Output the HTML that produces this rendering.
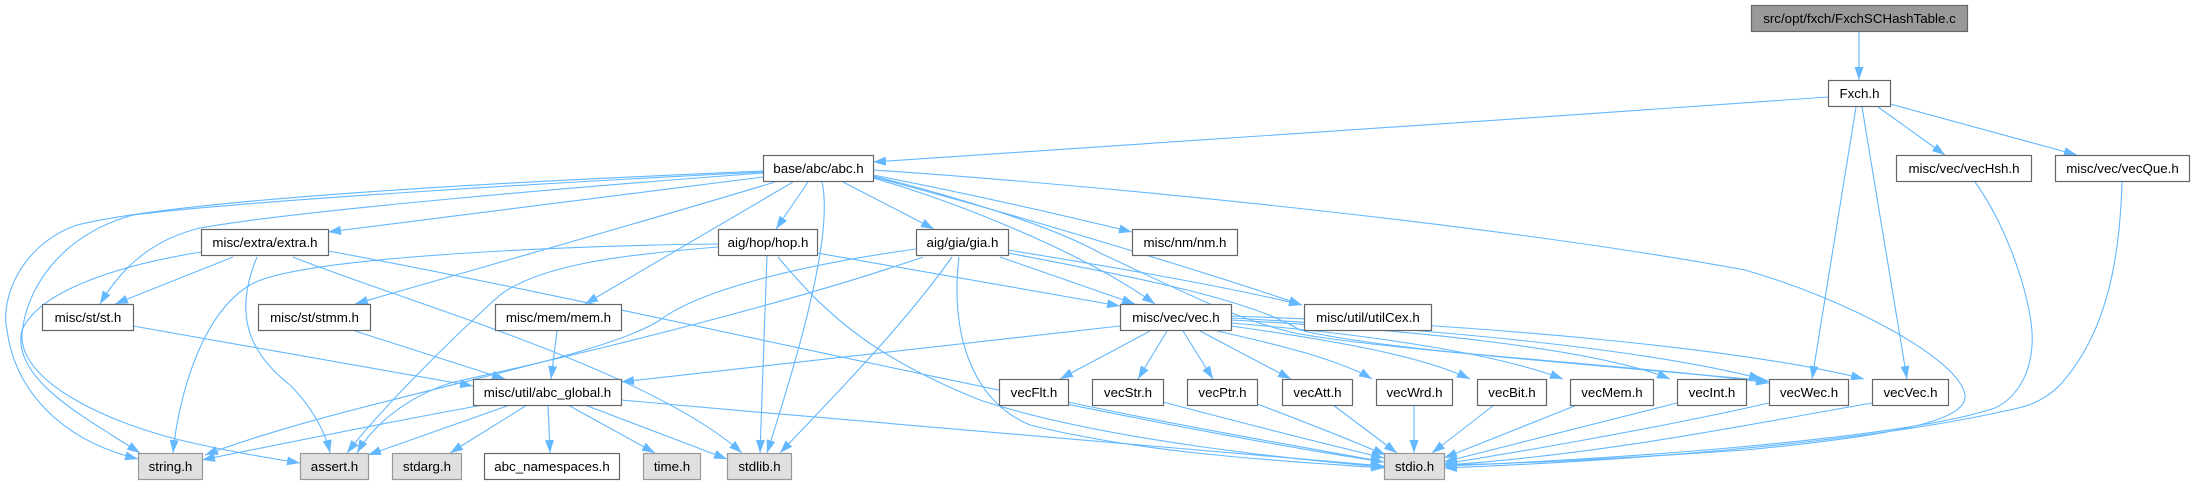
<!DOCTYPE html>
<html><head><meta charset="utf-8"><style>
html,body{margin:0;padding:0;background:#fff;width:2195px;height:485px;overflow:hidden}
svg{display:block}
text{font-family:"Liberation Sans",Arial,sans-serif;font-size:13.33px;fill:#000;text-anchor:middle}
.e{fill:none;stroke:#63b8ff;stroke-width:1.1;marker-end:url(#a)}
.n{fill:#fff;stroke:#666;stroke-width:1.2}
.g{fill:#e0e0e0;stroke:#999;stroke-width:1.2}
.s{fill:#999;stroke:#666;stroke-width:1.2}
</style></head><body>
<svg width="2195" height="485" viewBox="0 0 2195 485" xmlns="http://www.w3.org/2000/svg">
<defs><marker id="a" markerUnits="userSpaceOnUse" markerWidth="13" markerHeight="9" viewBox="0 0 13 9" refX="13" refY="4.5" orient="auto"><path d="M0,0 L13,4.5 L0,9 z" fill="#63b8ff"/></marker></defs>
<g>
<path class="e" d="M1859,32 L1859,80"/>
<path class="e" d="M1828,97 C1500,120 1100,148 873,162"/>
<path class="e" d="M1878,107 L1945,155"/>
<path class="e" d="M1890,104 L2077,155"/>
<path class="e" d="M1856,107 L1812,379"/>
<path class="e" d="M1862,107 L1907,379"/>
<path class="e" d="M1975,182 C2010,230 2035,310 2032,345 C2030,380 2012,400 1995,408 C1900,440 1600,460 1444,466"/>
<path class="e" d="M2122,182 C2120,250 2110,330 2060,385 C2040,405 2020,408 2000,412 C1850,445 1600,462 1444,468"/>
<path class="e" d="M873,170 C1100,185 1500,225 1745,270 C1850,300 1960,360 1965,395 C1968,420 1900,435 1745,450 C1600,460 1500,464 1444,465"/>
<path class="e" d="M763,177 L328,232"/>
<path class="e" d="M763,171 C600,178 200,195 77,225 C20,245 0,300 7,330 C15,390 60,440 138,459"/>
<path class="e" d="M763,172 C600,180 250,200 133,215 C60,235 25,290 22,335 C20,380 100,420 180,440 C230,452 270,458 300,463"/>
<path class="e" d="M763,173 C600,185 300,210 200,228 C150,240 120,270 100,304"/>
<path class="e" d="M775,182 C650,220 500,262 355,304"/>
<path class="e" d="M793,182 L585,304"/>
<path class="e" d="M808,182 L776,229"/>
<path class="e" d="M822,182 C835,240 790,380 767,453"/>
<path class="e" d="M843,182 L934,229"/>
<path class="e" d="M873,175 C950,190 1050,212 1132,232"/>
<path class="e" d="M873,178 C950,200 1080,250 1155,304"/>
<path class="e" d="M873,177 C1000,210 1200,270 1302,305"/>
<path class="e" d="M873,176 C950,195 1050,225 1100,253 C1180,290 1240,322 1300,334 C1400,352 1650,366 1769,383"/>
<path class="e" d="M1008,253 C1150,280 1250,300 1300,330 C1380,350 1600,365 1769,381"/>
<path class="e" d="M328,251 C600,300 1100,420 1384,462"/>
<path class="e" d="M293,257 C400,300 650,370 742,453"/>
<path class="e" d="M257,257 C235,310 245,350 290,385 C310,405 325,430 330,453"/>
<path class="e" d="M233,257 L115,304"/>
<path class="e" d="M201,252 C120,265 40,290 22,330 C10,380 90,420 140,453"/>
<path class="e" d="M133,326 L473,386"/>
<path class="e" d="M355,331 L505,379"/>
<path class="e" d="M557,331 L551,379"/>
<path class="e" d="M483,405 C400,420 300,440 202,460"/>
<path class="e" d="M510,405 L368,455"/>
<path class="e" d="M527,405 L450,453"/>
<path class="e" d="M548,405 L550,453"/>
<path class="e" d="M568,405 L655,453"/>
<path class="e" d="M585,405 L727,459"/>
<path class="e" d="M621,400 C900,425 1200,450 1384,466"/>
<path class="e" d="M718,244 C600,245 300,255 250,285 C200,315 178,400 173,453"/>
<path class="e" d="M718,247 C620,255 540,265 500,295 C450,340 380,410 347,453"/>
<path class="e" d="M817,253 C900,268 1000,285 1120,306"/>
<path class="e" d="M767,256 L760,453"/>
<path class="e" d="M778,257 C830,320 880,360 980,400 C1100,440 1300,460 1384,467"/>
<path class="e" d="M916,249 C800,265 700,290 660,320 C600,360 350,400 205,455"/>
<path class="e" d="M923,257 C800,300 600,350 450,383 C400,400 370,430 357,453"/>
<path class="e" d="M952,257 C900,330 830,400 780,453"/>
<path class="e" d="M959,257 C950,330 970,400 1030,425 C1150,455 1300,462 1384,468"/>
<path class="e" d="M1000,257 L1135,304"/>
<path class="e" d="M1008,250 C1100,265 1220,285 1302,305"/>
<path class="e" d="M1120,326 L621,382"/>
<path class="e" d="M1150,331 L1060,379"/>
<path class="e" d="M1167,331 L1138,379"/>
<path class="e" d="M1183,331 L1213,379"/>
<path class="e" d="M1200,331 L1291,379"/>
<path class="e" d="M1217,331 C1280,345 1340,360 1372,379"/>
<path class="e" d="M1231,326 C1330,340 1420,355 1470,379"/>
<path class="e" d="M1231,323 C1380,335 1500,355 1563,379"/>
<path class="e" d="M1231,320 C1420,330 1600,350 1670,379"/>
<path class="e" d="M1231,318 C1450,330 1650,350 1762,379"/>
<path class="e" d="M1231,316 C1500,325 1750,350 1864,379"/>
<path class="e" d="M1068,402 C1200,430 1320,450 1384,462"/>
<path class="e" d="M1163,402 C1250,425 1330,445 1384,458"/>
<path class="e" d="M1257,404 C1300,420 1350,440 1386,455"/>
<path class="e" d="M1333,405 L1397,453"/>
<path class="e" d="M1414,405 L1414,453"/>
<path class="e" d="M1494,405 L1432,453"/>
<path class="e" d="M1577,405 L1444,458"/>
<path class="e" d="M1677,403 L1444,462"/>
<path class="e" d="M1769,403 C1650,430 1500,455 1444,464"/>
<path class="e" d="M1872,403 C1745,425 1600,455 1444,465"/>
</g>
<g>
<rect class="s" x="1751.5" y="5.5" width="216" height="26"/><text x="1859.5" y="23">src/opt/fxch/FxchSCHashTable.c</text>
<rect class="n" x="1828.5" y="80.5" width="62" height="26"/><text x="1859.5" y="98">Fxch.h</text>
<rect class="n" x="763.5" y="155.5" width="110" height="26"/><text x="818.5" y="173">base/abc/abc.h</text>
<rect class="n" x="1896.5" y="155.5" width="135" height="26"/><text x="1964" y="173">misc/vec/vecHsh.h</text>
<rect class="n" x="2055.5" y="155.5" width="134" height="26"/><text x="2122.5" y="173">misc/vec/vecQue.h</text>
<rect class="n" x="201.5" y="229.5" width="127" height="26"/><text x="265" y="247">misc/extra/extra.h</text>
<rect class="n" x="718.5" y="229.5" width="99" height="26"/><text x="768" y="247">aig/hop/hop.h</text>
<rect class="n" x="916.5" y="229.5" width="92" height="26"/><text x="962.5" y="247">aig/gia/gia.h</text>
<rect class="n" x="1132.5" y="229.5" width="105" height="26"/><text x="1185" y="247">misc/nm/nm.h</text>
<rect class="n" x="42.5" y="304.5" width="91" height="26"/><text x="88" y="322">misc/st/st.h</text>
<rect class="n" x="258.5" y="304.5" width="112" height="26"/><text x="314.5" y="322">misc/st/stmm.h</text>
<rect class="n" x="495.5" y="304.5" width="126" height="26"/><text x="558.5" y="322">misc/mem/mem.h</text>
<rect class="n" x="1120.5" y="304.5" width="111" height="26"/><text x="1176" y="322">misc/vec/vec.h</text>
<rect class="n" x="1304.5" y="304.5" width="127" height="26"/><text x="1368" y="322">misc/util/utilCex.h</text>
<rect class="n" x="473.5" y="379.5" width="148" height="26"/><text x="547.5" y="397">misc/util/abc_global.h</text>
<rect class="n" x="999.5" y="379.5" width="69" height="26"/><text x="1034" y="397">vecFlt.h</text>
<rect class="n" x="1092.5" y="379.5" width="71" height="26"/><text x="1128" y="397">vecStr.h</text>
<rect class="n" x="1187.5" y="379.5" width="70" height="26"/><text x="1222.5" y="397">vecPtr.h</text>
<rect class="n" x="1282.5" y="379.5" width="70" height="26"/><text x="1317.5" y="397">vecAtt.h</text>
<rect class="n" x="1376.5" y="379.5" width="76" height="26"/><text x="1414.5" y="397">vecWrd.h</text>
<rect class="n" x="1477.5" y="379.5" width="69" height="26"/><text x="1512" y="397">vecBit.h</text>
<rect class="n" x="1570.5" y="379.5" width="83" height="26"/><text x="1612" y="397">vecMem.h</text>
<rect class="n" x="1677.5" y="379.5" width="69" height="26"/><text x="1712" y="397">vecInt.h</text>
<rect class="n" x="1769.5" y="379.5" width="79" height="26"/><text x="1809" y="397">vecWec.h</text>
<rect class="n" x="1872.5" y="379.5" width="76" height="26"/><text x="1910.5" y="397">vecVec.h</text>
<rect class="g" x="138.5" y="453.5" width="64" height="26"/><text x="170.5" y="471">string.h</text>
<rect class="g" x="300.5" y="453.5" width="68" height="26"/><text x="334.5" y="471">assert.h</text>
<rect class="g" x="392.5" y="453.5" width="69" height="26"/><text x="427" y="471">stdarg.h</text>
<rect class="n" x="484.5" y="453.5" width="135" height="26"/><text x="552" y="471">abc_namespaces.h</text>
<rect class="g" x="643.5" y="453.5" width="57" height="26"/><text x="672" y="471">time.h</text>
<rect class="g" x="727.5" y="453.5" width="64" height="26"/><text x="759.5" y="471">stdlib.h</text>
<rect class="g" x="1384.5" y="453.5" width="60" height="26"/><text x="1414.5" y="471">stdio.h</text>
</g>
</svg>
</body></html>
